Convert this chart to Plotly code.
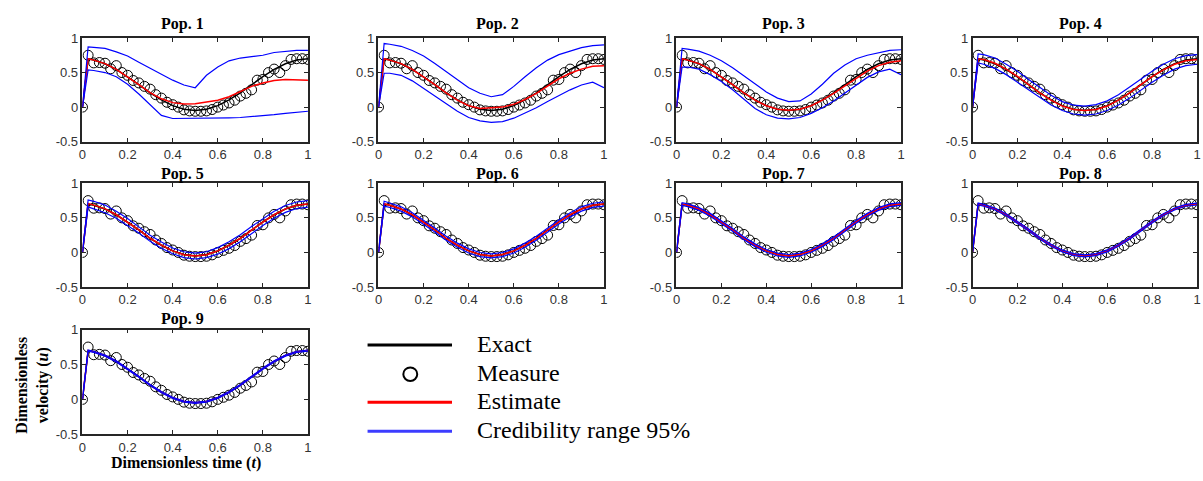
import plotly.graph_objects as go

# ---------------- data ----------------
T_LINE = [0, 0.025, 0.05, 0.1, 0.15, 0.2, 0.25, 0.3, 0.35, 0.4, 0.45, 0.5,
          0.55, 0.6, 0.65, 0.7, 0.75, 0.8, 0.85, 0.9, 0.95, 1.0]

T_MEAS = [0, 0.025, 0.05, 0.075, 0.1, 0.125, 0.15, 0.175, 0.2, 0.225, 0.25,
          0.275, 0.3, 0.325, 0.35, 0.375, 0.4, 0.425, 0.45, 0.475, 0.5,
          0.525, 0.55, 0.575, 0.6, 0.625, 0.65, 0.675, 0.7, 0.725, 0.75,
          0.775, 0.8, 0.825, 0.85, 0.875, 0.9, 0.925, 0.95, 0.975, 1.0]
MEASURE = [0, 0.75, 0.64, 0.645, 0.635, 0.555, 0.60, 0.50, 0.46, 0.385, 0.35,
           0.30, 0.26, 0.18, 0.13, 0.07, 0.035, 0.0, -0.04, -0.055, -0.06,
           -0.06, -0.055, -0.035, 0.0, 0.03, 0.06, 0.10, 0.16, 0.20, 0.25,
           0.39, 0.40, 0.50, 0.55, 0.50, 0.60, 0.69, 0.70, 0.70, 0.69]

EXACT = [0, 0.70, 0.682, 0.628, 0.545, 0.441, 0.325, 0.205, 0.104, 0.022, -0.031, -0.05,
         -0.031, 0.022, 0.104, 0.205, 0.325, 0.441, 0.545, 0.628, 0.682, 0.70]

POP_NAMES = ["Pop. 1", "Pop. 2", "Pop. 3", "Pop. 4", "Pop. 5", "Pop. 6", "Pop. 7", "Pop. 8", "Pop. 9"]

EST_1 = [0, 0.70, 0.68, 0.63, 0.545, 0.44, 0.325, 0.21, 0.12, 0.065, 0.045, 0.05,
         0.07, 0.10, 0.15, 0.22, 0.30, 0.35, 0.385, 0.40, 0.40, 0.39]
UP_1 = [0, 0.87, 0.865, 0.85, 0.80, 0.74, 0.65, 0.56, 0.47, 0.39, 0.32, 0.28,
        0.46, 0.58, 0.67, 0.71, 0.73, 0.75, 0.79, 0.81, 0.82, 0.82]
LO_1 = [0, 0.54, 0.53, 0.50, 0.44, 0.33, 0.19, 0.03, -0.12, -0.165, -0.165, -0.165,
        -0.165, -0.16, -0.155, -0.15, -0.14, -0.13, -0.11, -0.09, -0.07, -0.06]

EST_2 = [0, 0.70, 0.68, 0.63, 0.545, 0.44, 0.325, 0.205, 0.10, 0.02, -0.02, -0.01,
         0.0, 0.04, 0.11, 0.20, 0.31, 0.41, 0.49, 0.55, 0.59, 0.60]
UP_2 = [0, 0.92, 0.91, 0.88, 0.82, 0.74, 0.63, 0.51, 0.39, 0.28, 0.20, 0.15,
        0.18, 0.30, 0.44, 0.57, 0.68, 0.76, 0.81, 0.86, 0.89, 0.90]
LO_2 = [0, 0.49, 0.49, 0.46, 0.38, 0.27, 0.16, 0.05, -0.06, -0.15, -0.20, -0.22,
        -0.21, -0.16, -0.09, -0.01, 0.08, 0.17, 0.25, 0.32, 0.36, 0.28]

EST_3 = [0, 0.70, 0.68, 0.63, 0.545, 0.44, 0.325, 0.205, 0.10, 0.02, -0.03, -0.045,
         -0.03, 0.02, 0.10, 0.20, 0.31, 0.42, 0.52, 0.60, 0.65, 0.67]
UP_3 = [0, 0.85, 0.84, 0.81, 0.75, 0.67, 0.57, 0.45, 0.33, 0.22, 0.13, 0.08,
        0.09, 0.19, 0.33, 0.49, 0.61, 0.70, 0.75, 0.79, 0.82, 0.83]
LO_3 = [0, 0.58, 0.58, 0.55, 0.47, 0.37, 0.25, 0.11, -0.02, -0.11, -0.16, -0.17,
        -0.15, -0.09, -0.01, 0.09, 0.20, 0.32, 0.43, 0.51, 0.55, 0.47]

EST_4 = [0, 0.70, 0.69, 0.635, 0.55, 0.445, 0.325, 0.205, 0.10, 0.015, -0.035, -0.05,
         -0.035, 0.015, 0.10, 0.205, 0.325, 0.44, 0.54, 0.62, 0.67, 0.69]
UP_4 = [0, 0.77, 0.76, 0.71, 0.62, 0.52, 0.40, 0.28, 0.17, 0.08, 0.03, 0.015,
        0.035, 0.09, 0.18, 0.29, 0.41, 0.52, 0.62, 0.70, 0.745, 0.76]
LO_4 = [0, 0.64, 0.62, 0.56, 0.47, 0.36, 0.25, 0.13, 0.03, -0.05, -0.10, -0.115,
        -0.10, -0.05, 0.03, 0.13, 0.25, 0.36, 0.46, 0.55, 0.60, 0.62]

EST_5 = [0, 0.71, 0.685, 0.63, 0.545, 0.44, 0.325, 0.205, 0.105, 0.022, -0.032, -0.052,
         -0.032, 0.022, 0.105, 0.205, 0.325, 0.44, 0.545, 0.63, 0.682, 0.70]
UP_5 = [0, 0.76, 0.74, 0.685, 0.595, 0.49, 0.37, 0.25, 0.15, 0.065, 0.01, -0.01,
        0.01, 0.07, 0.155, 0.255, 0.375, 0.49, 0.595, 0.68, 0.73, 0.75]
LO_5 = [0, 0.66, 0.63, 0.575, 0.495, 0.39, 0.28, 0.16, 0.06, -0.02, -0.075, -0.095,
        -0.075, -0.025, 0.055, 0.155, 0.275, 0.39, 0.495, 0.58, 0.635, 0.655]

EST_6 = [0, 0.705, 0.684, 0.629, 0.545, 0.441, 0.325, 0.205, 0.104, 0.022, -0.031, -0.05,
         -0.031, 0.022, 0.104, 0.205, 0.325, 0.441, 0.545, 0.628, 0.682, 0.70]
UP_6 = [0, 0.74, 0.715, 0.66, 0.575, 0.47, 0.355, 0.235, 0.135, 0.052, -0.001, -0.02,
        -0.001, 0.052, 0.135, 0.235, 0.355, 0.47, 0.575, 0.66, 0.712, 0.73]
LO_6 = [0, 0.67, 0.652, 0.598, 0.515, 0.411, 0.295, 0.175, 0.074, -0.008, -0.061, -0.08,
        -0.061, -0.008, 0.074, 0.175, 0.295, 0.411, 0.515, 0.598, 0.652, 0.67]

EST_7 = [0, 0.70, 0.682, 0.628, 0.545, 0.441, 0.325, 0.205, 0.104, 0.022, -0.031, -0.05,
         -0.031, 0.022, 0.104, 0.205, 0.325, 0.441, 0.545, 0.628, 0.682, 0.70]
UP_7 = [0, 0.72, 0.702, 0.648, 0.565, 0.461, 0.345, 0.225, 0.124, 0.042, -0.011, -0.03,
        -0.011, 0.042, 0.124, 0.225, 0.345, 0.461, 0.565, 0.648, 0.702, 0.72]
LO_7 = [0, 0.68, 0.662, 0.608, 0.525, 0.421, 0.305, 0.185, 0.084, 0.002, -0.051, -0.07,
        -0.051, 0.002, 0.084, 0.185, 0.305, 0.421, 0.525, 0.608, 0.662, 0.68]

EST_8 = [0, 0.70, 0.682, 0.628, 0.545, 0.441, 0.325, 0.205, 0.104, 0.022, -0.031, -0.05,
         -0.031, 0.022, 0.104, 0.205, 0.325, 0.441, 0.545, 0.628, 0.682, 0.70]
UP_8 = [0, 0.714, 0.696, 0.642, 0.559, 0.455, 0.339, 0.219, 0.118, 0.036, -0.017, -0.036,
        -0.017, 0.036, 0.118, 0.219, 0.339, 0.455, 0.559, 0.642, 0.696, 0.714]
LO_8 = [0, 0.686, 0.668, 0.614, 0.531, 0.427, 0.311, 0.191, 0.09, 0.008, -0.045, -0.064,
        -0.045, 0.008, 0.09, 0.191, 0.311, 0.427, 0.531, 0.614, 0.668, 0.686]

EST_9 = [0, 0.70, 0.682, 0.628, 0.545, 0.441, 0.325, 0.205, 0.104, 0.022, -0.031, -0.05,
         -0.031, 0.022, 0.104, 0.205, 0.325, 0.441, 0.545, 0.628, 0.682, 0.70]
UP_9 = [0, 0.708, 0.69, 0.636, 0.553, 0.449, 0.333, 0.213, 0.112, 0.03, -0.023, -0.042,
        -0.023, 0.03, 0.112, 0.213, 0.333, 0.449, 0.553, 0.636, 0.69, 0.708]
LO_9 = [0, 0.692, 0.674, 0.62, 0.537, 0.433, 0.317, 0.197, 0.096, 0.014, -0.039, -0.058,
        -0.039, 0.014, 0.096, 0.197, 0.317, 0.433, 0.537, 0.62, 0.674, 0.692]

ESTIMATES = [EST_1, EST_2, EST_3, EST_4, EST_5, EST_6, EST_7, EST_8, EST_9]
UPPERS = [UP_1, UP_2, UP_3, UP_4, UP_5, UP_6, UP_7, UP_8, UP_9]
LOWERS = [LO_1, LO_2, LO_3, LO_4, LO_5, LO_6, LO_7, LO_8, LO_9]

X_TICKS = [0, 0.2, 0.4, 0.6, 0.8, 1]
X_TICKTEXT = ["0", "0.2", "0.4", "0.6", "0.8", "1"]
Y_TICKS = [-0.5, 0, 0.5, 1]
Y_TICKTEXT = ["-0.5", "0", "0.5", "1"]

LEGEND_LABELS = ["Exact", "Measure", "Estimate", "Credibility range 95%"]

# ---------------- layout ----------------
W, H = 1203, 481


def fx(p):
    return p / W


def fy(p):
    return 1 - p / H


COLS = [(79, 306), (377, 604), (677, 903), (975, 1201)]
ROWS = [(32, 139), (182, 289), (333, 441)]
TITLE_X = [180, 497, 785, 1084]
TITLE_Y = [18, 172, 322]

BLUE = "#0000ff"
RED = "#ff0000"
AXC = "#262626"
SERIF = "Liberation Serif, Times New Roman, serif"
SANS = "Liberation Sans, Arial, Helvetica, sans-serif"

fig = go.Figure()
layout = dict(width=W, height=H, margin=dict(l=0, r=0, t=0, b=0, pad=0),
              paper_bgcolor="white", plot_bgcolor="white", showlegend=False)
annotations = []
shapes = []

for i in range(9):
    r, c = divmod(i, 4)
    xn = "x" if i == 0 else f"x{i+1}"
    yn = "y" if i == 0 else f"y{i+1}"
    xk = "xaxis" if i == 0 else f"xaxis{i+1}"
    yk = "yaxis" if i == 0 else f"yaxis{i+1}"
    l, rr = COLS[c]
    t, b = ROWS[r]
    common = dict(showline=True, linecolor=AXC, linewidth=1.5, mirror="allticks",
                  ticks="inside", ticklen=4, tickwidth=1, tickcolor=AXC,
                  showgrid=False, zeroline=False,
                  tickfont=dict(family=SANS, size=13, color="#333333"))
    layout[xk] = dict(domain=[fx(l), fx(rr)], range=[0, 1], anchor=yn,
                      tickvals=X_TICKS, ticktext=X_TICKTEXT, **common)
    layout[yk] = dict(domain=[fy(b), fy(t)], range=[-0.5, 1], anchor=xn,
                      tickvals=Y_TICKS, ticktext=Y_TICKTEXT, **common)

    fig.add_trace(go.Scatter(x=T_LINE, y=EXACT, mode="lines", xaxis=xn, yaxis=yn,
                             line=dict(color="black", width=1.5), hoverinfo="skip"))
    fig.add_trace(go.Scatter(x=T_MEAS, y=MEASURE, mode="markers", xaxis=xn, yaxis=yn,
                             marker=dict(symbol="circle-open", size=10, color="black",
                                         line=dict(width=1, color="black"))))
    fig.add_trace(go.Scatter(x=T_LINE, y=ESTIMATES[i], mode="lines", xaxis=xn, yaxis=yn,
                             line=dict(color=RED, width=1.5)))
    fig.add_trace(go.Scatter(x=T_LINE, y=UPPERS[i], mode="lines", xaxis=xn, yaxis=yn,
                             line=dict(color=BLUE, width=1.2)))
    fig.add_trace(go.Scatter(x=T_LINE, y=LOWERS[i], mode="lines", xaxis=xn, yaxis=yn,
                             line=dict(color=BLUE, width=1.2)))

    annotations.append(dict(text=f"<b>{POP_NAMES[i]}</b>", xref="paper", yref="paper",
                            x=fx(TITLE_X[c]), y=fy(TITLE_Y[r]), xanchor="center",
                            yanchor="middle", showarrow=False,
                            font=dict(family=SERIF, size=16, color="black")))

# axis labels
annotations.append(dict(text="<b>Dimensionless time (<i>t</i>)</b>", xref="paper", yref="paper",
                        x=fx(183), y=fy(471), xanchor="center", yanchor="middle",
                        showarrow=False, font=dict(family=SERIF, size=16, color="black")))
annotations.append(dict(text="<b>Dimensionless<br>velocity (<i>u</i>)</b>", xref="paper", yref="paper",
                        x=fx(29), y=fy(390), xanchor="center", yanchor="middle",
                        textangle=-90, showarrow=False,
                        font=dict(family=SERIF, size=16, color="black")))

# legend (drawn manually)
LEG_Y = [348, 378, 407, 437]
LEG_COLORS = ["black", None, RED, "#3c3cff"]
for k, lab in enumerate(LEGEND_LABELS):
    if LEG_COLORS[k] is not None:
        shapes.append(dict(type="line", xref="paper", yref="paper",
                           x0=fx(366), x1=fx(451), y0=fy(LEG_Y[k] + 1), y1=fy(LEG_Y[k] + 1),
                           line=dict(color=LEG_COLORS[k], width=3)))
    else:
        cx, cy, rad = 409, LEG_Y[k] + 1, 7
        shapes.append(dict(type="circle", xref="paper", yref="paper",
                           x0=fx(cx - rad), x1=fx(cx + rad),
                           y0=fy(cy + rad), y1=fy(cy - rad),
                           line=dict(color="black", width=2)))
    annotations.append(dict(text=lab, xref="paper", yref="paper", x=fx(474), y=fy(LEG_Y[k]),
                            xanchor="left", yanchor="middle", showarrow=False,
                            font=dict(family=SERIF, size=24, color="black")))

layout["annotations"] = annotations
layout["shapes"] = shapes
fig.update_layout(**layout)
fig.write_html("out.html")
